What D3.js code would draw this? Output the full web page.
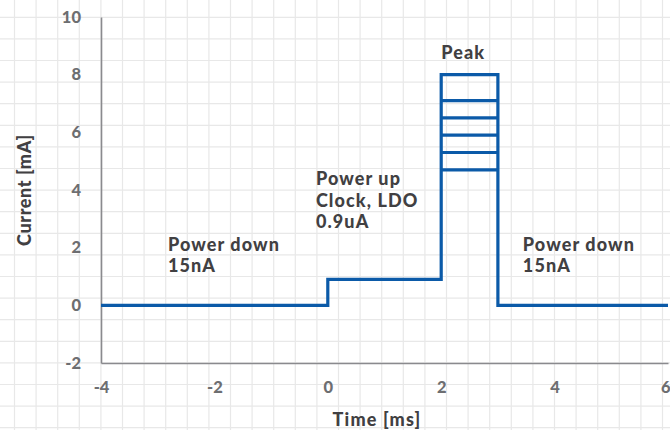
<!DOCTYPE html>
<html><head><meta charset="utf-8">
<script src="https://cdn.jsdelivr.net/npm/d3@7"></script>
<style>body{margin:0;background:#fff}svg{display:block}text{font-family:Lato,sans-serif;font-weight:900}</style>
</head><body>
<svg id="c" width="670" height="430"></svg>
<script>
// Data
const stepX = [-4, 0, 0, 2, 2, 3, 3, 6];
const stepY = [0, 0, 0.9, 0.9, 8, 8, 0, 0];
const peakLevels = [7.1, 6.5, 5.9, 5.3, 4.7];
const peakRange = [2, 3];
const xTicks = [-4, -2, 0, 2, 4, 6];
const yTicks = [-2, 0, 2, 4, 6, 8, 10];
const annotations = [
  {x: -2.82, y: 1.89, lines: ["Power down", "15nA"]},
  {x: -0.21, y: 4.17, lines: ["Power up", "Clock, LDO", "0.9uA"]},
  {x: 2.0, y: 8.53, lines: ["Peak"]},
  {x: 3.44, y: 1.89, lines: ["Power down", "15nA"]}
];

const W = 670, H = 430;
const svg = d3.select("#c");

// background graph-paper grid
const gridStep = 21.6;
const bg = svg.append("g");
for (let gx = 14.5; gx < W; gx += gridStep)
  bg.append("line").attr("x1", gx).attr("x2", gx).attr("y1", 0).attr("y2", H).attr("stroke", "#e8e8e8").attr("stroke-width", 1.2);
for (let gy = 17.3 - gridStep; gy < H; gy += gridStep)
  bg.append("line").attr("y1", gy).attr("y2", gy).attr("x1", 0).attr("x2", W).attr("stroke", "#e8e8e8").attr("stroke-width", 1.2);

const x = d3.scaleLinear().domain([-4, 6]).range([101, 668]);
const y = d3.scaleLinear().domain([-2, 10]).range([363, 17]);

// axes
const axisColor = "#8a8a8e";
const yAxis = svg.append("g").attr("transform", `translate(${x(-4)},0)`)
  .call(d3.axisLeft(y).tickValues(yTicks).tickSize(0).tickPadding(20).tickFormat(d => String(d)));
const xAxis = svg.append("g").attr("transform", `translate(0,${y(-2)})`)
  .call(d3.axisBottom(x).tickValues(xTicks).tickSize(0).tickPadding(18).tickFormat(d => String(d)));
[yAxis, xAxis].forEach(a => {
  a.select(".domain").attr("stroke", axisColor).attr("stroke-width", 1.6);
  a.selectAll("text").attr("fill", "#6d6e71").attr("font-size", 16.5).attr("font-family", "Lato").attr("font-weight", 900);
});
xAxis.selectAll(".tick").filter(d => d === 6).select("text").attr("text-anchor", "end").attr("dx", 2);

// axis titles
svg.append("text").attr("transform", `translate(31,${y(4)}) rotate(-90)`).attr("text-anchor", "middle")
  .attr("font-size", 18).attr("letter-spacing", 0.6).attr("fill", "#414042").text("Current [mA]");
svg.append("text").attr("x", 377).attr("y", 426).attr("text-anchor", "middle")
  .attr("font-size", 18).attr("letter-spacing", 1.2).attr("fill", "#414042").text("Time [ms]");

// data line
const blue = "#0b5aa8";
const pts = stepX.map((d, i) => [d, stepY[i]]);
svg.append("path").datum(pts)
  .attr("d", d3.line().x(d => x(d[0])).y(d => y(d[1])))
  .attr("fill", "none").attr("stroke", blue).attr("stroke-width", 3.2).attr("stroke-linejoin", "miter");
svg.selectAll(".lvl").data(peakLevels).join("line")
  .attr("x1", x(peakRange[0])).attr("x2", x(peakRange[1]))
  .attr("y1", d => y(d)).attr("y2", d => y(d))
  .attr("stroke", blue).attr("stroke-width", 3.2);

// annotations
annotations.forEach(a => {
  const t = svg.append("text").attr("x", x(a.x)).attr("y", y(a.y)).attr("fill", "#414042").attr("font-size", 18).attr("letter-spacing", 1.1);
  a.lines.forEach((l, i) => t.append("tspan").attr("x", x(a.x)).attr("dy", i ? 21.6 : 0).text(l));
});
</script>
</body></html>
